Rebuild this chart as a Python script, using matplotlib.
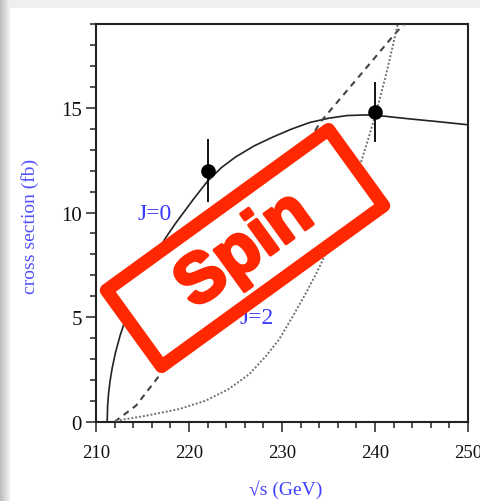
import matplotlib
matplotlib.use("Agg")
import numpy as np
import matplotlib.pyplot as plt
import matplotlib.patheffects as pe
from matplotlib.patches import Rectangle
from matplotlib.transforms import Affine2D

# threshold scan of the cross section for the three spin hypotheses
sqrt_s_j0 = [210.0, 211.2, 211.25, 211.35, 211.5, 211.75, 212.1, 212.6, 213.3, 214.2,
             215.3, 216.4, 217.5, 218.5, 219.5, 220.5, 222.0, 223.5, 225.0, 227.0,
             229.0, 231.0, 233.0, 235.0, 237.0, 239.0, 241.0, 243.5, 246.5, 250.0]
xsec_j0 = [0.0, 0.0, 0.78, 1.36, 1.92, 2.6, 3.32, 4.14, 5.07, 6.06,
           7.09, 7.98, 8.8, 9.45, 10.05, 10.65, 11.5, 12.15, 12.65, 13.18,
           13.6, 13.98, 14.3, 14.5, 14.63, 14.66, 14.6, 14.48, 14.35, 14.19]

sqrt_s_j1 = [212.0, 212.15, 214.3, 216.8, 219.0, 222.0, 225.0, 228.0, 231.0,
             234.1, 236.0, 238.0, 240.0, 242.0, 243.1]
xsec_j1 = [0.0, 0.06, 0.78, 2.21, 3.6, 5.5, 7.5, 9.7, 12.0,
           14.3, 15.3, 16.35, 17.4, 18.46, 19.0]

sqrt_s_j2 = [212.15, 215.4, 218.96, 221.8, 224.3, 226.5, 228.3, 229.7, 231.1,
             232.5, 233.7, 235.2, 236.7, 238.2, 239.2, 240.2, 241.2, 242.2, 242.45]
xsec_j2 = [0.06, 0.3, 0.62, 1.02, 1.58, 2.29, 3.16, 3.95, 5.0,
           6.1, 7.1, 8.5, 10.1, 12.0, 13.4, 14.9, 16.6, 18.5, 19.0]

# measured points
data_x = [222.0, 240.0]
data_y = [12.0, 14.8]
data_err = [1.5, 1.45]

W, H = 481, 502
fig = plt.figure(figsize=(W / 100, H / 100), dpi=100, facecolor="white")

# slide frame: grey edge on the left, light band on top
edge = fig.add_axes([0, 0, 10 / W, 1])
edge.imshow(np.linspace(0.74, 0.95, 20).reshape(1, -1), cmap="gray", vmin=0, vmax=1,
            aspect="auto", extent=[0, 1, 0, 1])
edge.axis("off")
fig.patches.append(Rectangle((10 / W, 1 - 9 / H), 1, 9 / H, transform=fig.transFigure,
                             facecolor="#efefef", edgecolor="none", zorder=0))

ax = fig.add_axes([96 / W, 1 - 423 / H, (468 - 96) / W, (423 - 25) / H])

ax.plot(sqrt_s_j0, xsec_j0, color="#222222", lw=1.2, zorder=3)
ax.plot(sqrt_s_j1, xsec_j1, color="#444444", lw=1.5, ls=(0, (3, 2.5)), zorder=3)
ax.plot(sqrt_s_j2, xsec_j2, color="#707070", lw=1.4, ls=(0, (1, 1)), zorder=3)
ax.errorbar(data_x, data_y, yerr=data_err, fmt="o", color="black", ms=9.5,
            elinewidth=1.3, capsize=0, zorder=4)

label_font = ["Liberation Serif", "DejaVu Serif"]
ax.text(216.3, 9.94, "J=0", color="#3a3aff", fontsize=17, family=label_font,
        ha="center", va="center", zorder=5)
ax.text(227.3, 4.97, "J=2", color="#3a3aff", fontsize=17, family=label_font,
        ha="center", va="center", zorder=5)

ax.set_xlim(210, 250)
ax.set_ylim(0, 19)
ax.set_xticks(np.arange(210, 251, 10))
ax.set_xticks(np.arange(210, 251, 2), minor=True)
ax.set_yticks([0, 5, 10, 15])
ax.set_yticks(np.arange(0, 19.5, 1), minor=True)
ax.tick_params(which="both", direction="out", top=False, right=False,
               width=1.1, color="#222222", labelcolor="#111111")
ax.tick_params(which="major", length=7.2)
ax.tick_params(which="minor", length=4.6)
ax.tick_params(axis="x", pad=8.5, labelsize=13.5)
ax.tick_params(axis="y", pad=3, labelsize=15)
for lab in ax.get_xticklabels() + ax.get_yticklabels():
    lab.set_family(label_font)
for sp in ax.spines.values():
    sp.set_linewidth(1.5)
    sp.set_color("#222222")

fig.text(286 / W, 1 - 490 / H, "√s (GeV)", color="#4040ff", fontsize=14,
         family=label_font, ha="center", va="center")
fig.text(30 / W, 1 - 226 / H, "cross section (fb)", color="#5050ff", fontsize=14,
         family=label_font, ha="center", va="center", rotation=90)

# red "Spin" stamp across the plot, laid out in pixels
to_fig = Affine2D().scale(1 / W, 1 / H) + fig.transFigure
angle = 35.9
cx, cy = 245, H - 249
stamp_tf = Affine2D().rotate_deg(angle).translate(cx, cy) + to_fig
stamp_w, stamp_h = 274, 94
ax.add_patch(Rectangle((-stamp_w / 2, -stamp_h / 2), stamp_w, stamp_h,
                       transform=stamp_tf, facecolor="white", edgecolor="#ff2800",
                       lw=9.6, joinstyle="round", clip_on=False, zorder=10))
ax.text(cx / W, (cy - 3) / H, "Spin", transform=fig.transFigure, color="#ff2800",
        fontsize=50, fontweight="bold", family=["Liberation Sans", "DejaVu Sans"],
        rotation=angle, rotation_mode="anchor", ha="center", va="center",
        clip_on=False, zorder=11,
        path_effects=[pe.withStroke(linewidth=2.5, foreground="#ff2800")])

fig.savefig("out.png", dpi=100)
